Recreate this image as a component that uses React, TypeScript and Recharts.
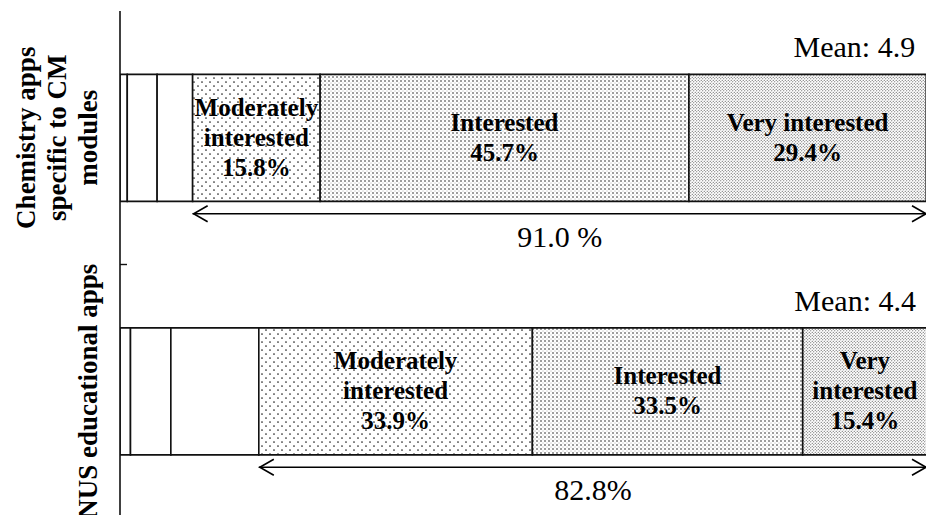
import { Bar, BarChart, LabelList, ReferenceLine, XAxis, YAxis } from "recharts";

const categories = ["Chemistry apps\nspecific to CM\nmodules", "NUS educational apps"];
const notAtAll = [0.9, 1.3];
const slightly = [3.7, 5.0];
const somewhat = [4.4, 10.9];
const moderately = [15.8, 33.9];
const interested = [45.7, 33.5];
const veryInterested = [29.4, 15.4];
const means = [4.9, 4.4];
const totalLabels = ["91.0 %", "82.8%"];
const moderatelyText = ["Moderately\ninterested", "Moderately\ninterested"];
const interestedText = ["Interested", "Interested"];
const veryText = ["Very interested", "Very\ninterested"];

const data = categories.map((name, i) => ({
  name,
  a: notAtAll[i],
  b: slightly[i],
  c: somewhat[i],
  mod: moderately[i],
  int: interested[i],
  very: veryInterested[i],
  modLabel: `${moderatelyText[i]}\n${moderately[i].toFixed(1)}%`,
  intLabel: `${interestedText[i]}\n${interested[i].toFixed(1)}%`,
  veryLabel: `${veryText[i]}\n${veryInterested[i].toFixed(1)}%`,
  mean: `Mean: ${means[i]}`,
}));

const SERIF = '"Liberation Serif", "Times New Roman", serif';
const STROKE = "#111";
const ARROW_DY = 76; // arrow sits below the bar

function CategoryTick(props: any) {
  const { y, payload } = props;
  const lines = String(payload.value).split("\n");
  const base = 97;
  return (
    <g>
      {lines.map((line, i) => (
        <text
          key={i}
          transform={`translate(${base - (lines.length - 1 - i) * 31},${y}) rotate(-90)`}
          textAnchor="middle"
          fontFamily={SERIF}
          fontWeight="bold"
          fontSize={27}
          fill="#000"
        >
          {line}
        </text>
      ))}
    </g>
  );
}

function SegmentLabel(props: any) {
  const vb = props.viewBox ?? props;
  const { x, y, width, height } = vb;
  const lines = String(props.value).split("\n");
  const cx = x + width / 2;
  const lh = 30;
  const first = y + height / 2 - ((lines.length - 1) * lh) / 2 + 8;
  return (
    <g>
      {lines.map((line, i) => (
        <text
          key={i}
          x={cx}
          y={first + i * lh}
          textAnchor="middle"
          fontFamily={SERIF}
          fontWeight="bold"
          fontSize={25}
          fill="#000"
        >
          {line}
        </text>
      ))}
    </g>
  );
}

function MeanLabel(props: any) {
  const vb = props.viewBox ?? props;
  const { x, y, width } = vb;
  return (
    <text x={x + width - 11} y={y - 17} textAnchor="end" fontFamily={SERIF} fontSize={30} fill="#000">
      {props.value}
    </text>
  );
}

function DoubleArrow(props: any) {
  const { x1, y1, x2, text } = props;
  const y = y1 + ARROW_DY;
  return (
    <g>
      <line x1={x1} y1={y} x2={x2} y2={y} stroke="#000" strokeWidth={1.6} />
      <polyline points={`${x1 + 15},${y - 8} ${x1 + 1},${y} ${x1 + 15},${y + 8}`} fill="none" stroke="#000" strokeWidth={1.6} />
      <polyline points={`${x2 - 15},${y - 8} ${x2 - 1},${y} ${x2 - 15},${y + 8}`} fill="none" stroke="#000" strokeWidth={1.6} />
      <text x={(x1 + x2) / 2} y={y + 33} textAnchor="middle" fontFamily={SERIF} fontSize={30} fill="#000">
        {text}
      </text>
    </g>
  );
}

function BoundaryTick(props: any) {
  const { x1, y1 } = props;
  return <line x1={x1} y1={y1} x2={x1 + 7} y2={y1} stroke={STROKE} strokeWidth={1.4} />;
}

export default function App() {
  return (
    <div style={{ position: "absolute", left: 0, top: 0, width: 926, height: 515, overflow: "hidden", background: "#fff" }}>
      <BarChart
        width={940}
        height={530}
        data={data}
        layout="vertical"
        margin={{ top: 11, right: 13, bottom: 12, left: 0 }}
        barCategoryGap="25%"
      >
        <defs>
          <pattern id="patMod" width="8" height="8" patternUnits="userSpaceOnUse">
            <rect width="8" height="8" fill="#fff" />
            <circle cx="2" cy="2" r="0.85" fill="#222" />
            <circle cx="6" cy="6" r="0.85" fill="#222" />
          </pattern>
          <pattern id="patInt" width="4" height="4" patternUnits="userSpaceOnUse">
            <rect width="4" height="4" fill="#fff" />
            <circle cx="1" cy="1" r="0.8" fill="#222" />
            <circle cx="3" cy="3" r="0.45" fill="#555" />
          </pattern>
          <pattern id="patVery" width="3" height="3" patternUnits="userSpaceOnUse">
            <rect width="3" height="3" fill="#fff" />
            <circle cx="0.75" cy="0.75" r="0.55" fill="#444" />
            <circle cx="2.25" cy="2.25" r="0.55" fill="#444" />
          </pattern>
        </defs>
        <XAxis
          type="number"
          orientation="top"
          domain={[0, 100]}
          allowDataOverflow
          height={0}
          tick={false}
          tickLine={false}
          axisLine={{ stroke: STROKE, strokeWidth: 1.6 }}
        />
        <YAxis
          type="category"
          dataKey="name"
          width={120}
          tickLine={false}
          axisLine={{ stroke: STROKE, strokeWidth: 1.6 }}
          tick={<CategoryTick />}
        />
        <Bar dataKey="a" stackId="s" fill="#fff" stroke={STROKE} strokeWidth={1.6} isAnimationActive={false} />
        <Bar dataKey="b" stackId="s" fill="#fff" stroke={STROKE} strokeWidth={1.6} isAnimationActive={false} />
        <Bar dataKey="c" stackId="s" fill="#fff" stroke={STROKE} strokeWidth={1.6} isAnimationActive={false} />
        <Bar dataKey="mod" stackId="s" fill="url(#patMod)" stroke={STROKE} strokeWidth={1.6} isAnimationActive={false}>
          <LabelList dataKey="modLabel" content={<SegmentLabel />} />
        </Bar>
        <Bar dataKey="int" stackId="s" fill="url(#patInt)" stroke={STROKE} strokeWidth={1.6} isAnimationActive={false}>
          <LabelList dataKey="intLabel" content={<SegmentLabel />} />
        </Bar>
        <Bar dataKey="very" stackId="s" fill="url(#patVery)" stroke={STROKE} strokeWidth={1.6} isAnimationActive={false}>
          <LabelList dataKey="veryLabel" content={<SegmentLabel />} />
          <LabelList dataKey="mean" content={<MeanLabel />} />
        </Bar>
        <ReferenceLine y={categories[0]} position="end" shape={(p: any) => <BoundaryTick {...p} />} />
        {categories.map((name, i) => (
          <ReferenceLine
            key={i}
            segment={[
              { x: notAtAll[i] + slightly[i] + somewhat[i], y: name },
              { x: 100, y: name },
            ]}
            shape={(p: any) => <DoubleArrow {...p} text={totalLabels[i]} />}
          />
        ))}
      </BarChart>
    </div>
  );
}
